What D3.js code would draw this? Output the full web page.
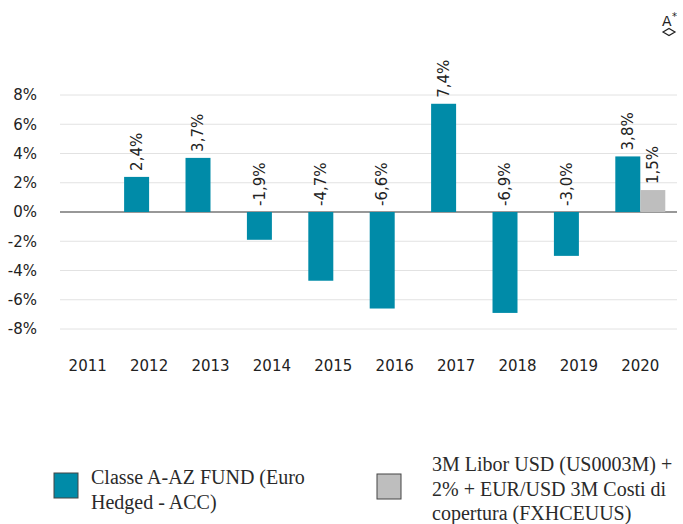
<!DOCTYPE html>
<meta charset="utf-8">
<style>
  body { margin: 0; background: #fff; }
  svg text.tick { font-family: "DejaVu Sans", sans-serif; font-size: 15px; fill: #222; }
  svg text.val { font-family: "DejaVu Sans", sans-serif; font-size: 15px; fill: #222; }
  svg text.legend { font-family: "Liberation Serif", serif; font-size: 20px; fill: #2a2a2a; }
</style>
<script src="https://d3js.org/d3.v7.min.js"></script>
<div id="chart"></div>
<script>
// data
var years = ["2011","2012","2013","2014","2015","2016","2017","2018","2019","2020"];
var fund = [null, 2.4, 3.7, -1.9, -4.7, -6.6, 7.4, -6.9, -3.0, 3.8];
var bench = [null, null, null, null, null, null, null, null, null, 1.5];
var yTicks = [-8, -6, -4, -2, 0, 2, 4, 6, 8];
var seriesNames = ["Classe A-AZ FUND (Euro|Hedged - ACC)",
                   "3M Libor USD (US0003M) +|2% + EUR/USD 3M Costi di|copertura (FXHCEUUS)"];
var colors = ["#008ba8", "#bebebe"];

var W = 683, H = 524;
var svg = d3.select("#chart").append("svg")
    .attr("width", W).attr("height", H);

var x = d3.scaleBand().domain(years).range([57, 671])
    .paddingInner(0.186).paddingOuter(0.093);
var y = d3.scaleLinear().domain([-8, 8]).range([329, 95]);

// grid
svg.append("g").selectAll("line").data(yTicks).enter().append("line")
    .attr("x1", 60).attr("x2", 677)
    .attr("y1", function(d){ return y(d); }).attr("y2", function(d){ return y(d); })
    .attr("stroke", function(d){ return d === 0 ? "#333" : "#e2e2e2"; })
    .attr("stroke-width", function(d){ return d === 0 ? 1.2 : 1; });

// y tick labels
svg.append("g").selectAll("text").data(yTicks).enter().append("text")
    .attr("class", "tick")
    .attr("x", 37).attr("y", function(d){ return y(d); })
    .attr("dy", "0.35em").attr("text-anchor", "end")
    .text(function(d){ return d + "%"; });

// x labels
svg.append("g").selectAll("text").data(years).enter().append("text")
    .attr("class", "tick")
    .attr("x", function(d){ return x(d) + x.bandwidth()/2; })
    .attr("y", 371).attr("text-anchor", "middle")
    .text(function(d){ return d; });

var sub = d3.scaleBand().domain([0, 1]).range([0, x.bandwidth()]);

var series = [fund, bench];
series.forEach(function(vals, si) {
  var data = years.map(function(yr, i){ return {year: yr, v: vals[i]}; })
      .filter(function(d){ return d.v !== null; });
  var g = svg.append("g");
  g.selectAll("rect").data(data).enter().append("rect")
      .attr("x", function(d){ return x(d.year) + sub(si); })
      .attr("width", sub.bandwidth())
      .attr("y", function(d){ return y(Math.max(0, d.v)); })
      .attr("height", function(d){ return Math.abs(y(d.v) - y(0)); })
      .attr("fill", colors[si]);
  g.selectAll("text").data(data).enter().append("text")
      .attr("class", "val")
      .attr("transform", function(d){
        var cx = x(d.year) + sub(si) + sub.bandwidth()/2;
        var cy = y(Math.max(0, d.v)) - 6;
        return "translate(" + cx + "," + cy + ") rotate(-90)";
      })
      .attr("dy", "0.35em")
      .text(function(d){ return d.v.toFixed(1).replace(".", ",") + "%"; });
});

// legend
var legBox = [[54, 473], [377, 474]];
var legText = [[91, 484], [432, 471]];
seriesNames.forEach(function(name, i) {
  svg.append("rect")
    .attr("x", legBox[i][0]).attr("y", legBox[i][1])
    .attr("width", 24).attr("height", 25)
    .attr("fill", colors[i]).attr("stroke", "#444").attr("stroke-width", 1);
  var t = svg.append("text").attr("class", "legend")
    .attr("x", legText[i][0]).attr("y", legText[i][1]);
  name.split("|").forEach(function(line, k) {
    t.append("tspan").attr("x", legText[i][0]).attr("dy", k === 0 ? 0 : 24.5).text(line);
  });
});

// small font-size icon top right
svg.append("text").attr("x", 662).attr("y", 26)
  .style("font-family", "DejaVu Sans").style("font-size", "14px").style("fill", "#222")
  .text("A");
svg.append("text").attr("x", 672).attr("y", 20)
  .style("font-family", "DejaVu Sans").style("font-size", "10px").style("fill", "#222")
  .text("*");
svg.append("path")
  .attr("d", "M663,32 L669,28.5 L675,32 L669,35.5 Z")
  .attr("fill", "none").attr("stroke", "#222").attr("stroke-width", 1.2);
</script>
